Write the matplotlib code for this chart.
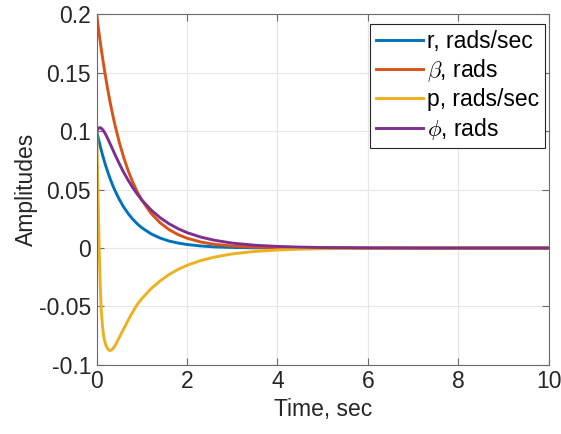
import matplotlib
matplotlib.use('Agg')
import matplotlib.pyplot as plt

# time samples (s) and responses
time_s = [0, 0.02, 0.04, 0.06, 0.08, 0.1, 0.13, 0.16, 0.2, 0.25, 0.3, 0.35, 0.4,
          0.5, 0.6, 0.7, 0.8, 0.9, 1.0, 1.2, 1.4, 1.6, 1.8, 2.0, 2.3, 2.6, 3.0,
          3.5, 4.0, 4.5, 5, 6, 7, 8, 9, 10]

r_rate = [0.1, 0.0966, 0.0932, 0.0900, 0.0869, 0.0839, 0.0796, 0.0755, 0.0704,
          0.0645, 0.0591, 0.0541, 0.0496, 0.0416, 0.0349, 0.0293, 0.0246, 0.0206,
          0.0173, 0.0122, 0.0086, 0.0060, 0.0043, 0.0030, 0.0018, 0.0010, 0.0005,
          0.0002, 0.0001, 0, 0, 0, 0, 0, 0, 0]

beta = [0.2, 0.1938, 0.1877, 0.1818, 0.1761, 0.1706, 0.1627, 0.1551, 0.1456,
        0.1345, 0.1242, 0.1148, 0.1060, 0.0904, 0.0772, 0.0658, 0.0562, 0.0479,
        0.0409, 0.0298, 0.0217, 0.0158, 0.0115, 0.0084, 0.0052, 0.0032, 0.0017,
        0.0008, 0.0003, 0.0002, 0.0001, 0, 0, 0, 0, 0]

p_rate = [0.1, 0.062, 0.025, -0.008, -0.034, -0.053, -0.068, -0.077, -0.083,
          -0.0868, -0.0879, -0.0865, -0.0840, -0.0765, -0.0690, -0.0615, -0.0545,
          -0.0482, -0.0432, -0.0349, -0.0282, -0.0227, -0.0183, -0.0148, -0.0107,
          -0.0078, -0.0050, -0.0029, -0.0017, -0.0010, -0.0006, -0.0002, -0.0001,
          0, 0, 0]

phi = [0.1, 0.1016, 0.1026, 0.1031, 0.1030, 0.1026, 0.1014, 0.0998, 0.0972,
       0.0932, 0.0890, 0.0847, 0.0804, 0.0722, 0.0646, 0.0578, 0.0516, 0.0460,
       0.0411, 0.0327, 0.0261, 0.0208, 0.0166, 0.0132, 0.0094, 0.0067, 0.0042,
       0.0024, 0.0014, 0.0008, 0.0004, 0.0001, 0, 0, 0, 0]

labels = ['r, rads/sec', r'$\beta$, rads', 'p, rads/sec', r'$\phi$, rads']
colors = ['#0072BD', '#D95319', '#EDB120', '#7E2F8E']

plt.rcParams['font.family'] = ['Liberation Sans', 'DejaVu Sans']
plt.rcParams['mathtext.fontset'] = 'cm'
plt.rcParams['axes.unicode_minus'] = False

text_col = '#262626'
fs = 16.5

fig = plt.figure(figsize=(5.61, 4.34), dpi=100)
ax = fig.add_axes([0.1724, 0.1594, 0.8056, 0.8072])

for ys, lab, col in zip([r_rate, beta, p_rate, phi], labels, colors):
    ax.plot(time_s, ys, color=col, lw=2.1, label=lab)

ax.set_xlim(0, 10)
ax.set_ylim(-0.1, 0.2)
ax.set_xticks([0, 2, 4, 6, 8, 10])
ax.set_yticks([-0.1, -0.05, 0, 0.05, 0.1, 0.15, 0.2])
ax.set_yticklabels(['-0.1', '-0.05', '0', '0.05', '0.1', '0.15', '0.2'])

ax.grid(True, color='#e6e6e6', lw=0.8)
ax.set_axisbelow(True)
for s in ax.spines.values():
    s.set_color('#6a6a6a')
    s.set_linewidth(0.8)
ax.tick_params(direction='in', top=True, right=True, length=5, width=0.8,
               color='#6a6a6a', labelsize=fs, labelcolor=text_col, pad=4)

ax.set_xlabel('Time, sec', fontsize=fs, color=text_col, labelpad=3)
ax.set_ylabel('Amplitudes', fontsize=fs, color=text_col, labelpad=1)

leg = ax.legend(loc='upper right', bbox_to_anchor=(0.992, 0.973), borderaxespad=0,
                fontsize=fs, fancybox=False, framealpha=1, edgecolor='#262626',
                handlelength=2.05, handletextpad=0.2, labelspacing=0.2,
                borderpad=0.25)
leg.get_frame().set_linewidth(0.8)

fig.savefig('out.png', dpi=100)
